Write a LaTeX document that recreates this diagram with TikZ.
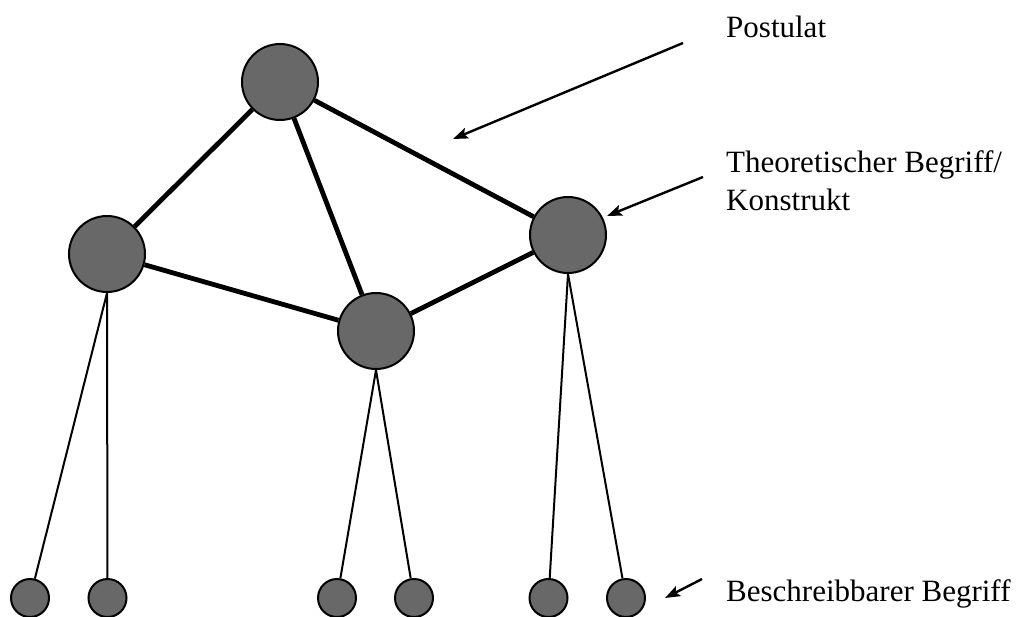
\documentclass[tikz,border=0pt]{standalone}
\usepackage{fontspec}
\setmainfont{Liberation Serif}
\usetikzlibrary{arrows.meta}
\definecolor{nodegrey}{RGB}{104,104,104}

\begin{document}
\begin{tikzpicture}[x=1pt, y=-1pt,
  construct/.style={circle, draw=black, line width=2pt, fill=nodegrey, minimum size=76pt, inner sep=0pt},
  observable/.style={circle, draw=black, line width=2pt, fill=nodegrey, minimum size=38pt, inner sep=0pt},
  postulate/.style={line width=4.8pt},
  link/.style={line width=2pt},
  pointer/.style={line width=2.4pt, -{Stealth[length=15pt, width=11pt, inset=3pt]}},
  caption/.style={anchor=base west, inner sep=0pt, align=left, font=\fontsize{31}{38.3}\selectfont}]

\useasboundingbox (0,0) rectangle (1024,617);

% theoretical concepts
\node[construct] (top) at (280, 82) {};
\node[construct] (left) at (107, 254) {};
\node[construct] (mid) at (376, 331) {};
\node[construct] (right) at (568, 235) {};

% observable concepts
\node[observable] (l1) at (30, 598) {};
\node[observable] (l2) at (107.5, 598) {};
\node[observable] (m1) at (337, 598) {};
\node[observable] (m2) at (414, 598) {};
\node[observable] (r1) at (548.5, 598) {};
\node[observable] (r2) at (626, 598) {};

% postulates
\draw[postulate] (top) -- (left);
\draw[postulate] (top) -- (mid);
\draw[postulate] (top) -- (right);
\draw[postulate] (left) -- (mid);
\draw[postulate] (mid) -- (right);

% correspondence rules
\draw[link] (left.south) -- (l1);
\draw[link] (left.south) -- (l2);
\draw[link] (mid.south) -- (m1);
\draw[link] (mid.south) -- (m2);
\draw[link] (right.south) -- (r1);
\draw[link] (right.south) -- (r2);

% labels (base = last line)
\node[caption] (postulat) at (726, 38) {Postulat};
\node[caption] (construct) at (726, 211) {Theoretischer Begriff/\\Konstrukt};
\node[caption] (descr) at (726, 601.7) {Beschreibbarer Begriff};

\coordinate (postulatstart) at (683, 43);
\coordinate (postulattip) at (453, 139);
\coordinate (constructstart) at (703, 177);
\coordinate (constructtip) at (607, 216);
\coordinate (descrstart) at (702, 579);
\coordinate (descrtip) at (665, 598);

\draw[pointer] (postulatstart) -- (postulattip);
\draw[pointer] (constructstart) -- (constructtip);
\draw[pointer] (descrstart) -- (descrtip);

\end{tikzpicture}
\end{document}
